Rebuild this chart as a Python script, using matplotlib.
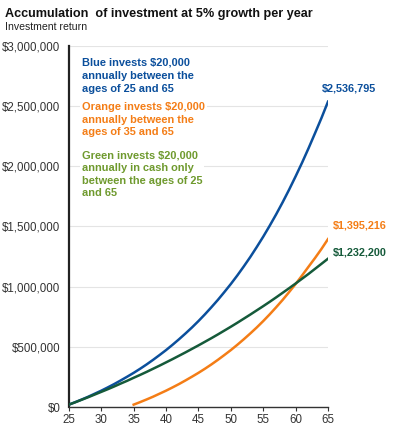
import numpy as np
import matplotlib
matplotlib.use("Agg")
import matplotlib.pyplot as plt
from matplotlib.ticker import FuncFormatter

plt.rcParams['font.family'] = ['Liberation Sans', 'DejaVu Sans']

# Ages on the x axis
ages_blue = list(range(25, 66))
ages_orange = list(range(35, 66))
ages_green = list(range(25, 66))

# Values (dollars)
blue = [20000, 41000, 63000, 86000, 111000, 136000, 163000, 191000, 221000, 252000,
        284000, 318000, 354000, 392000, 432000, 473000, 517000, 563000, 611000, 661000,
        714000, 770000, 829000, 890000, 955000, 1022000, 1093000, 1168000, 1246000, 1329000,
        1415000, 1506000, 1601000, 1701000, 1806000, 1916000, 2030000, 2150000, 2275000, 2402000,
        2536795]
orange = [20000, 41000, 63000, 86000, 111000, 136000, 163000, 191000, 221000, 252000,
          284000, 318000, 354000, 392000, 432000, 473000, 517000, 563000, 611000, 661000,
          714000, 770000, 829000, 890000, 955000, 1022000, 1093000, 1166000, 1238000, 1314000,
          1395216]
green = [20000, 40000, 61000, 82000, 104000, 126000, 148000, 171000, 195000, 218000,
         243000, 267000, 292000, 318000, 344000, 371000, 398000, 426000, 454000, 483000,
         512000, 542000, 572000, 603000, 635000, 667000, 700000, 734000, 768000, 803000,
         838000, 874000, 911000, 949000, 987000, 1026000, 1066000, 1106000, 1148000, 1190000,
         1232200]

end_labels = ["$2,536,795", "$1,395,216", "$1,232,200"]
notes = ["Blue invests $20,000\nannually between the\nages of 25 and 65",
         "Orange invests $20,000\nannually between the\nages of 35 and 65",
         "Green invests $20,000\nannually in cash only\nbetween the ages of 25\nand 65"]

c_blue = "#0b4f9c"
c_orange = "#f47d16"
c_green = "#155a3a"
c_green_txt = "#6f9a2e"

fig = plt.figure(figsize=(4.10, 4.41), dpi=100)
ax = fig.add_axes([0.168, 0.077, 0.632, 0.819])

ax.plot(ages_blue, blue, color=c_blue, lw=1.8, zorder=3)
ax.plot(ages_orange, orange, color=c_orange, lw=1.8, zorder=3)
ax.plot(ages_green, green, color=c_green, lw=1.8, zorder=4)

ax.set_xlim(25, 65)
ax.set_ylim(0, 3000000)
ax.set_xticks(range(25, 66, 5))
ax.set_yticks(range(0, 3000001, 500000))
ax.yaxis.set_major_formatter(FuncFormatter(lambda v, p: "${:,.0f}".format(v)))
ax.grid(axis='y', color='#e4e4e4', lw=0.8, zorder=0)
ax.set_axisbelow(True)
for s in ['top', 'right']:
    ax.spines[s].set_visible(False)
ax.spines['left'].set_linewidth(1.6)
ax.spines['left'].set_color('#222222')
ax.spines['bottom'].set_linewidth(1.0)
ax.spines['bottom'].set_color('#333333')
ax.tick_params(axis='y', length=0, labelsize=8.3, colors='#333333', pad=6)
ax.tick_params(axis='x', length=3, width=0.8, labelsize=8.3, colors='#333333', pad=2)

# Text notes with white boxes covering the grid
box = dict(facecolor='white', edgecolor='none', pad=1.5)
ax.text(27.0, 2900000, notes[0], color=c_blue, fontsize=7.9, fontweight='bold',
        va='top', ha='left', linespacing=1.35, bbox=box, zorder=5)
ax.text(27.0, 2535000, notes[1], color=c_orange, fontsize=7.9, fontweight='bold',
        va='top', ha='left', linespacing=1.35, bbox=box, zorder=5)
ax.text(27.0, 2135000, notes[2], color=c_green_txt, fontsize=7.9, fontweight='bold',
        va='top', ha='left', linespacing=1.35, bbox=box, zorder=5)

# End value labels
ax.text(64.1, 2650000, end_labels[0], color=c_blue, fontsize=7.8,
        fontweight='bold', ha='left', va='center', clip_on=False)
ax.text(65.8, 1504000, end_labels[1], color=c_orange, fontsize=7.8,
        fontweight='bold', ha='left', va='center', clip_on=False)
ax.text(65.8, 1284000, end_labels[2], color=c_green, fontsize=7.8,
        fontweight='bold', ha='left', va='center', clip_on=False)

fig.text(0.012, 0.968, "Accumulation  of investment at 5% growth per year", fontsize=9.1,
         fontweight='bold', color='#111111', va='center')
fig.text(0.012, 0.938, "Investment return", fontsize=7.6, color='#222222', va='center')

fig.savefig("out.png", dpi=100)
